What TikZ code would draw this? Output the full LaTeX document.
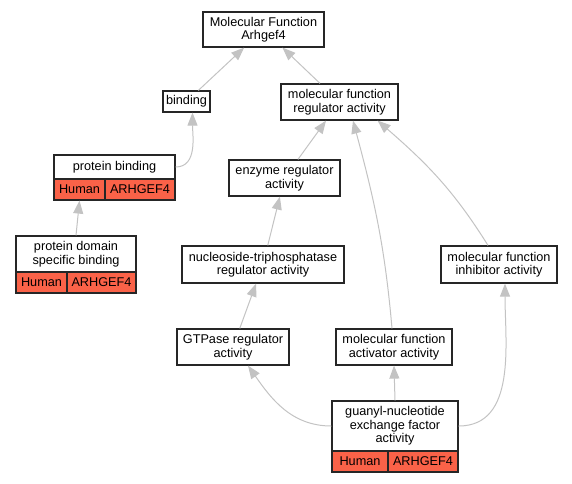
\documentclass[tikz,border=0pt]{standalone}
\usepackage{fontspec}
\setmainfont{Liberation Sans}
\usetikzlibrary{arrows.meta, positioning}
\definecolor{edgegray}{RGB}{195,195,195}
\definecolor{tomatofill}{RGB}{250,98,72}
\tikzset{
  term/.style={draw=black!85, line width=1.2pt, fill=white, rectangle, align=center, inner sep=0pt,
    font=\fontsize{12.7}{13.5}\selectfont},
  cell/.style={term, fill=tomatofill},
  edge/.style={draw=edgegray, line width=1pt, -{Triangle[length=13pt,width=10pt]}}
}
\begin{document}
\begin{tikzpicture}[x=1pt, y=1pt]
\useasboundingbox (0,0) rectangle (572,-483);
% terms
\node[term, minimum width=121, minimum height=35] (mf) at (263.5,-29.5) {Molecular Function\\Arhgef4};
\node[term, minimum width=47, minimum height=21] (bind) at (186.5,-101.5) {binding};
\node[term, minimum width=117, minimum height=36] (mfra) at (339.5,-102) {molecular function\\regulator activity};
\node[term, minimum width=121, minimum height=24] (pb) at (114.5,-167) {protein binding};
\node[cell, minimum width=51, minimum height=21] (pbHuman) at (79.5,-189.5) {Human};
\node[cell, minimum width=70, minimum height=21] (pbGene) at (140,-189.5) {ARHGEF4};
\node[term, minimum width=111, minimum height=36] (enz) at (284.5,-178) {enzyme regulator\\activity};
\node[term, minimum width=162, minimum height=37] (ntp) at (263,-264.5) {nucleoside-triphosphatase\\regulator activity};
\node[term, minimum width=116, minimum height=37] (inh) at (499,-264.5) {molecular function\\inhibitor activity};
\node[term, minimum width=120, minimum height=36] (pdsb) at (76,-254) {protein domain\\specific binding};
\node[cell, minimum width=51, minimum height=21] (pdsbHuman) at (41.5,-282.5) {Human};
\node[cell, minimum width=69, minimum height=21] (pdsbGene) at (101.5,-282.5) {ARHGEF4};
\node[term, minimum width=112, minimum height=36] (gtp) at (233,-347) {GTPase regulator\\activity};
\node[term, minimum width=116, minimum height=36] (act) at (394,-347) {molecular function\\activator activity};
\node[term, minimum width=126, minimum height=50] (gef) at (395,-426) {guanyl-nucleotide\\exchange factor\\activity};
\node[cell, minimum width=56, minimum height=21] (gefHuman) at (360,-461.5) {Human};
\node[cell, minimum width=70, minimum height=21] (gefGene) at (423,-461.5) {ARHGEF4};
% is_a links
\draw[edge] (bind) -- (mf);
\draw[edge] (mfra) -- (mf);
\draw[edge] (pb.east) to[out=0, in=-90] ([xshift=6]bind.south);
\draw[edge] (pdsb.north) -- (pbHuman.south);
\draw[edge] (enz) -- (mfra);
\draw[edge] ([xshift=-11]inh.north) to[out=122, in=-41] ([xshift=-21]mfra.south east);
\draw[edge] ([xshift=-2]act.north) to[out=95, in=-75] ([xshift=13.5]mfra.south);
\draw[edge] (ntp) -- (enz);
\draw[edge] (gtp) -- (ntp);
\draw[edge] (gef.west) to[out=180, in=-55] ([xshift=15]gtp.south);
\draw[edge] (gef.north) -- (act.south);
\draw[edge] (gef.east) to[out=0, in=-90] ([xshift=6]inh.south);
\end{tikzpicture}
\end{document}
